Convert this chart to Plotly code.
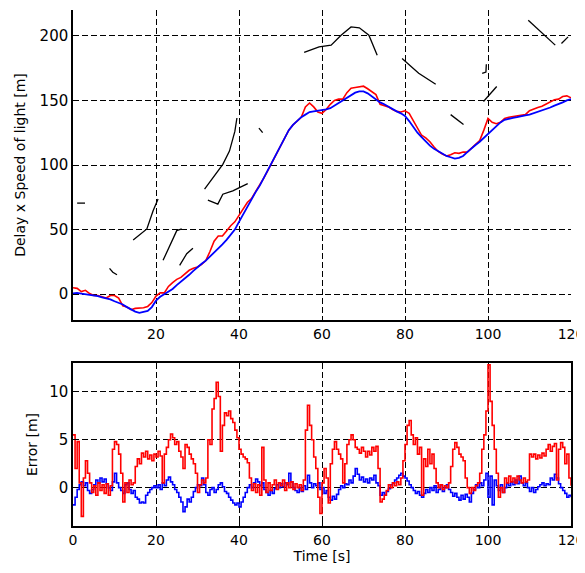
import plotly.graph_objects as go
from plotly.subplots import make_subplots

# ---------------- data ----------------
t_top = list(range(0, 121))  # seconds, 1 s grid
blue_top = [0.5, 1, 0.5, 0, 0, -1, -1.5, -2.5, -3, -4,
            -5.5, -6.5, -8, -10, -12, -13.5, -14.5, -14, -13, -10,
            -5, -2, 0, 2, 4, 7, 9.5, 12, 15, 18,
            21, 23.5, 26, 29, 32, 35, 38.5, 42, 46, 50,
            56, 62, 68, 74, 79, 84, 90, 96, 102, 108,
            115, 121, 127, 131, 134, 137, 139, 141, 141.5, 142,
            142, 143, 144, 146, 148, 150.5, 152.5, 154.5, 156, 157,
            157, 155.5, 153, 150.5, 148.5, 147, 145, 143, 141.5, 140,
            138, 134, 129, 125, 121.5, 118, 115, 112.5, 110.5, 108.5,
            107, 106, 105, 105.5, 107, 110, 113, 115.5, 118, 121,
            124, 127, 130, 133, 135, 136, 136.5, 137, 138, 138.5,
            139, 140, 141, 142, 143, 144.5, 146, 147, 148.5, 150,
            151]
red_top = [5, 4.5, 2, 3, 0.5, -1, -1, -2, -3, -1,
           -1, -3, -9, -10, -12, -11, -11, -10.5, -9.5, -6.5,
           -1.5, 1, 1, 6, 9, 11.5, 13, 16, 18.5, 20,
           21, 23, 26, 33, 41, 45, 45, 49, 53, 56,
           61, 65, 71, 74, 79, 84, 90, 96, 102, 108,
           115, 121, 127, 131, 134, 137, 145, 148, 145, 141,
           140, 143, 147, 150, 151, 151, 156, 159.5, 160, 160.5,
           161, 159, 157, 154.5, 147, 146, 145, 143, 141.5, 141,
           142, 140, 134, 128, 123, 121, 118, 114, 110.5, 108.5,
           107, 108, 109.5, 109, 110, 110, 113, 115.5, 119, 127,
           136, 133, 132, 133, 136, 137, 137.5, 138, 139, 139,
           142, 143.5, 144.5, 145.5, 147, 149, 150.5, 151, 153, 153.5,
           152]

# black candidate-path fragments (time [s], delay x c [m]); None separates fragments
frag_t = [1, 2.9, None,
          8.8, 9.6, 10.6, None,
          14.5, 17.8, 19.3, 20.5, None,
          21.7, 23.8, 25.0, 26.2, None,
          25.7, 27.4, 28.9, None,
          31.7, 33.7, 36.1, 37.7, 39.0, 39.5, None,
          32.5, 34.9, 36.1, 38.5, 40.1, 42.1, None,
          44.8, 45.7, None,
          55.7, 59.3, 62.2, 64.6, 67.0, 69.0, 71.3, 73.3, None,
          79.3, 83.3, 87.4, None,
          91.0, 94.1, None,
          98.6, 99.5, 99.6, None,
          98.9, 102.1, None,
          109.7, 113.7, 116.2, None,
          117.7, 119.3]
frag_v = [70.5, 70.5, None,
          20, 17, 15, None,
          42, 50.5, 64.6, 73.6, None,
          26.2, 41.5, 49.2, 50.5, None,
          22.3, 31.3, 35.6, None,
          81.3, 90.2, 100.5, 110.8, 126, 136.4, None,
          72.8, 69.7, 77.4, 80, 82.5, 85.6, None,
          128.5, 125, None,
          187.2, 191.5, 192.8, 200.5, 206.9, 206.2, 200.5, 185, None,
          182.5, 171, 162.5, None,
          139, 131.3, None,
          171, 172, 178, None,
          149.2, 160.8, None,
          212, 200.5, 192.8, None,
          194, 199.2]

t_err = [i * 0.5 for i in range(241)]  # seconds, 0.5 s grid
red_err = [5.5, 2.0, 4.8, 0.5, -3.0, 1.0, 2.8, 1.5, 0.5, -0.5, 0.2, -0.8, 0.5, -0.3, 0.3, -0.6, 0.4, -0.8, 0.2, 4.0,
           4.8, 4.5, 3.5, 1.5, -1.5, 0.5, -0.5, 0.8, 0.3, 0.5, 2.2, 3.0, 2.5, 3.6, 3.2, 3.8, 3.0, 3.4, 2.8, 3.5,
           3.2, 3.8, 3.3, 0.5, 3.5, 4.2, 5.0, 5.6, 5.2, 4.5, 4.8, 3.8, 3.2, 2.0, 4.5, 4.2, 3.5, 3.0, 2.5, 1.5,
           -0.5, 0.3, 0.8, 0.5, 1.0, 5.0, 4.5, 8.2, 9.3, 11.0, 9.5, 3.8, 6.5, 7.8, 7.5, 8.0, 7.2, 6.8, 6.0, 5.2,
           4.0, 3.5, 3.2, 3.0, 2.6, 1.0, -0.3, 0.4, -0.5, 0.3, -0.8, 4.2, 0.8, -0.5, 0.5, -0.3, 0.3, 0.8, -0.2, 0.5,
           0.2, 0.8, -0.3, 0.5, 0.0, 0.6, -0.2, 0.4, 0.0, 0.3, -0.3, 0.8, 6.0, 8.6, 6.5, 5.0, 3.2, 2.0, -1.0, -2.7,
           0.5, 2.0, 1.0, -1.6, 2.5, 4.0, 4.8, 4.0, 3.5, 3.0, 0.5, 2.5, 4.5, 5.0, 5.5, 5.0, 4.2, 4.0, 3.6, 4.2,
           3.8, 3.2, 3.8, 3.4, 4.2, 3.8, 4.3, 2.0, -1.5, -1.2, -0.8, -0.3, 0.3, 0.0, 0.5, 0.2, 0.6, 0.3, 1.0, 2.8,
           4.5, 6.5, 7.0, 5.5, 4.5, 5.2, 3.5, 4.2, -0.8, 3.0, 2.2, 4.0, 2.5, 3.5, 2.0, 0.5, 0.0, 0.3, -0.2, 0.2,
           0.0, 0.5, 2.2, 4.0, 4.7, 4.2, 3.5, 3.2, 2.8, 1.0, 0.0, -0.6, 0.0, -0.3, 0.2, 0.5, 1.5, 4.0, 5.5, 8.0,
           12.8, 9.0, 6.5, 4.0, 1.5, -1.0, 0.0, -0.5, 1.0, 0.5, 1.2, 0.6, 1.0, 0.5, 1.2, 0.8, 0.5, 1.0, 0.6, 0.8,
           3.5, 3.2, 3.5, 3.0, 3.4, 3.1, 3.6, 3.3, 4.0, 4.5, 3.8, 4.3, 4.6, 0.8, 4.0, 4.7, 4.2, 2.5, 3.5, 1.0,
           0.2]
blue_err = [-1.8, -1.0, -0.2, 0.3, 0.6, 0.2, 0.5, -0.3, -0.6, -0.2, 0.3, 0.8, 0.5, 1.0, 0.6, 0.9, 0.4, 0.0, -0.3, 0.6,
            1.5, 0.5, 0.0, -0.3, -0.6, 0.3, 0.5, -0.2, -0.6, -0.3, -1.0, -1.2, -1.6, -1.5, -1.6, -0.8, -0.5, -0.2, 0.0, 0.2,
            0.0, 0.3, -0.2, 0.5, 0.2, 0.8, 1.1, 0.6, 0.3, -0.2, -0.5, -1.0, -1.5, -2.5, -2.0, -1.2, -1.5, -1.0, -0.4, 0.0,
            0.3, 0.2, 1.0, 0.3, -0.5, -0.8, -0.2, 0.0, -0.5, -0.2, 0.3, 0.5, 0.1, -0.4, -0.6, -1.0, -1.3, -1.6, -1.8, -1.6,
            -2.0, -1.5, -1.0, -0.5, 0.0, 0.3, 0.0, 0.5, 0.9, 0.6, 0.2, 0.5, -0.2, -0.5, -0.8, -0.3, -0.6, -0.1, 0.3, 0.0,
            0.4, 0.1, 0.5, 0.3, 1.5, 0.6, 0.0, -0.3, -0.5, 0.0, -0.4, 0.2, -0.2, 1.3, 0.5, 0.0, 0.4, 0.2, 0.5, -0.2,
            0.0, -0.6, -0.3, -1.0, -1.3, -0.9, -1.2, -0.7, -0.2, 0.2, 0.0, 0.4, 0.3, 0.8, 0.5, 1.2, 2.0, 1.4, 0.8, 1.1,
            0.6, 0.9, 0.5, 1.0, 0.8, 1.3, 0.5, 0.2, -0.8, -0.5, -0.8, -0.4, -0.1, 0.3, 0.5, 0.8, 1.0, 1.3, 1.5, 1.2,
            1.0, 0.7, 0.3, 0.0, -0.3, -0.6, -0.4, -0.8, -1.0, -0.6, -0.2, -0.5, 0.0, -0.3, 0.2, -0.5, -0.2, 0.3, -0.4, 0.0,
            0.3, -0.2, -0.5, -0.9, -0.6, -1.0, -1.3, -0.8, -1.2, -0.7, -1.0, -1.5, -0.6, -0.2, 0.3, 0.0, 0.5, 0.2, 0.8, 1.5,
            -1.0, 1.2, -1.8, 0.8, 0.2, -0.3, 0.3, -0.5, 0.0, 0.4, 0.2, 0.6, 0.3, 0.8, 0.4, 1.2, 0.5, 0.2, 0.5, 0.0,
            -0.4, 0.0, -0.5, -0.2, 0.1, 0.3, 0.5, 0.2, 0.4, 0.3, 1.0, 0.8, 1.4, 1.0, 0.4, 0.0, -0.3, -0.6, -1.0, -0.8,
            -1.0]

top_xticks = [20, 40, 60, 80, 100, 120]
top_yticks = [0, 50, 100, 150, 200]
bot_xticks = [0, 20, 40, 60, 80, 100, 120]
bot_yticks = [0, 5, 10]

# ---------------- figure ----------------
fig = make_subplots(rows=2, cols=1, shared_xaxes=False)

fig.add_trace(go.Scatter(x=frag_t, y=frag_v, mode="lines", line=dict(color="black", width=1.3),
                         connectgaps=False, showlegend=False), row=1, col=1)
fig.add_trace(go.Scatter(x=t_top, y=red_top, mode="lines", line=dict(color="#ff0000", width=1.6),
                         showlegend=False), row=1, col=1)
fig.add_trace(go.Scatter(x=t_top, y=blue_top, mode="lines", line=dict(color="#0000ff", width=1.8),
                         showlegend=False), row=1, col=1)

fig.add_trace(go.Scatter(x=t_err, y=blue_err, mode="lines", line=dict(color="#0000ff", width=1.6, shape="hv"),
                         showlegend=False), row=2, col=1)
fig.add_trace(go.Scatter(x=t_err, y=red_err, mode="lines", line=dict(color="#ff0000", width=1.6, shape="hv"),
                         showlegend=False), row=2, col=1)

fam = "DejaVu Sans, Liberation Sans, Arial, sans-serif"
font = dict(family=fam, size=15, color="black")
xfont = dict(family=fam, size=14, color="black")
grid = dict(showgrid=True, gridcolor="black", gridwidth=1.2, griddash="6px,3px",
            zeroline=False, showline=True, linecolor="black", linewidth=1.5,
            ticks="inside", ticklen=4, tickcolor="black",
            automargin=False, ticklabeloverflow="allow")

fig.update_xaxes(range=[0, 120], tickvals=top_xticks, mirror=False, tickfont=xfont, **grid, row=1, col=1)
fig.update_yaxes(range=[-20, 220], tickvals=top_yticks, mirror=False, tickfont=font, **grid,
                 title=dict(text="Delay x Speed of light [m]", font=dict(family=fam, size=14, color="black"),
                            standoff=11),
                 row=1, col=1)
fig.update_xaxes(range=[0, 120], tickvals=bot_xticks, mirror=True, tickfont=xfont, **grid,
                 title=dict(text="Time [s]", font=dict(family=fam, size=14, color="black"), standoff=2),
                 row=2, col=1)
fig.update_yaxes(range=[-4, 13], tickvals=bot_yticks, mirror=True, tickfont=font, **grid,
                 title=dict(text="Error [m]", font=dict(family=fam, size=14, color="black"), standoff=8),
                 row=2, col=1)

# the page body has an 8 px margin, so the figure is sized/offset to land on the reference pixels
fig.update_layout(
    width=577, height=565,
    margin=dict(l=65, r=14, t=2, b=47),
    paper_bgcolor="white", plot_bgcolor="white",
    font=font,
)
fig.layout.xaxis.domain = [0, 1]
fig.layout.xaxis2.domain = [0, 1]
fig.layout.yaxis.domain = [0.3992, 1.0]
fig.layout.yaxis2.domain = [0.0, 0.3159]

fig.write_html("out.html")
